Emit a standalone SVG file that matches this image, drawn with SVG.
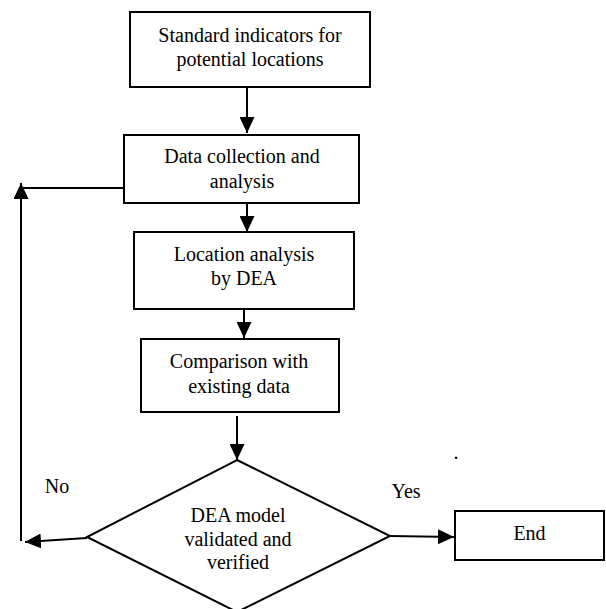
<svg xmlns="http://www.w3.org/2000/svg" width="606" height="609" viewBox="0 0 606 609">
<defs>
<marker id="ah" markerUnits="userSpaceOnUse" markerWidth="16" markerHeight="15" refX="16" refY="7.5" orient="auto">
<path d="M0,0 L16,7.5 L0,15 z" fill="#000"/>
</marker>
<style>
.box{fill:#fff;stroke:#000;stroke-width:2}
.t{font-family:"Liberation Serif","Times New Roman",serif;font-size:20px;fill:#000;text-anchor:middle}
.c{fill:none;stroke:#000;stroke-width:2}
</style>
</defs>
<rect width="606" height="609" fill="#fff"/>
<g id="connectors">
<line class="c" x1="247" y1="87" x2="247" y2="133" marker-end="url(#ah)"/>
<line class="c" x1="247" y1="203" x2="247" y2="232" marker-end="url(#ah)"/>
<line class="c" x1="244" y1="309" x2="244" y2="338" marker-end="url(#ah)"/>
<line class="c" x1="237" y1="416" x2="237" y2="460" marker-end="url(#ah)"/>
<line class="c" x1="390" y1="536" x2="454" y2="537" marker-end="url(#ah)"/>
<line class="c" x1="87" y1="538" x2="25" y2="542" marker-end="url(#ah)"/>
<polyline class="c" points="124,188 21,188"/>
<line class="c" x1="21" y1="541" x2="21" y2="183" marker-end="url(#ah)"/>
</g>
<g id="n1">
<rect class="box" x="130" y="12" width="240" height="75"/>
<text class="t" x="250" y="42">Standard indicators for</text>
<text class="t" x="250" y="66">potential locations</text>
</g>
<g id="n2">
<rect class="box" x="124" y="135" width="235" height="68"/>
<text class="t" x="242" y="163">Data collection and</text>
<text class="t" x="242" y="188">analysis</text>
</g>
<g id="n3">
<rect class="box" x="134" y="232" width="220" height="77"/>
<text class="t" x="244" y="261">Location analysis</text>
<text class="t" x="244" y="285">by DEA</text>
</g>
<g id="n4">
<rect class="box" x="141" y="339" width="198" height="73"/>
<text class="t" x="239" y="368">Comparison with</text>
<text class="t" x="239" y="393">existing data</text>
</g>
<g id="n5">
<polygon class="box" points="237,460 390,536 237,612 87,537"/>
<text class="t" x="238" y="522">DEA model</text>
<text class="t" x="238" y="546">validated and</text>
<text class="t" x="238" y="569">verified</text>
</g>
<g id="n6">
<rect class="box" x="455" y="511" width="149" height="49"/>
<text class="t" x="529.5" y="540">End</text>
</g>
<g id="labels">
<text class="t" x="57" y="493">No</text>
<text class="t" x="406" y="498">Yes</text>
<text class="t" x="456" y="459">.</text>
</g>
</svg>
